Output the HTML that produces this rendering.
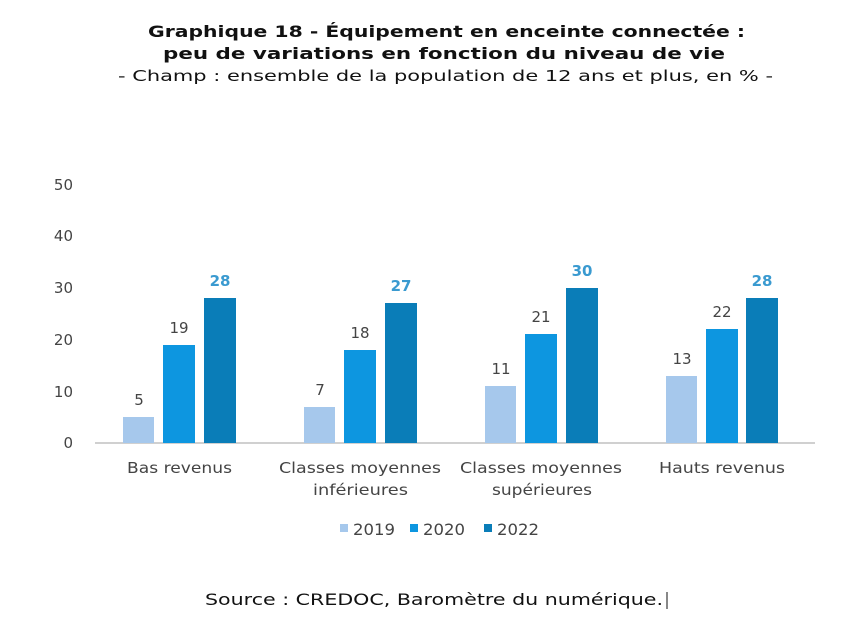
<!DOCTYPE html>
<html><head><meta charset="utf-8"><style>
body{margin:0;background:#fff;width:843px;height:623px;overflow:hidden}
svg{display:block}
</style></head><body>
<svg width="843" height="623" xmlns="http://www.w3.org/2000/svg" font-family="DejaVu Sans, Liberation Sans, sans-serif">
<text x="148" y="37" font-size="16" font-weight="bold" fill="#111" textLength="597" lengthAdjust="spacingAndGlyphs">Graphique 18 - Équipement en enceinte connectée :</text>
<text x="163" y="59" font-size="16" font-weight="bold" fill="#111" textLength="562" lengthAdjust="spacingAndGlyphs">peu de variations en fonction du niveau de vie</text>
<text x="118" y="81" font-size="15" fill="#111" textLength="655" lengthAdjust="spacingAndGlyphs">- Champ : ensemble de la population de 12 ans et plus, en % -</text>
<g font-size="15" fill="#444" text-anchor="end">
<text x="73" y="448">0</text><text x="73" y="397">10</text><text x="73" y="345">20</text>
<text x="73" y="293">30</text><text x="73" y="241">40</text><text x="73" y="190">50</text>
</g>
<line x1="95" y1="443" x2="815" y2="443" stroke="#d0d0d0" stroke-width="2"/>
<g>
<rect x="123" y="417" width="31" height="26" fill="#a6c8ec"/>
<rect x="163" y="345" width="32" height="98" fill="#0d96e0"/>
<rect x="204" y="298" width="32" height="145" fill="#0a7db8"/>
<rect x="304" y="407" width="31" height="36" fill="#a6c8ec"/>
<rect x="344" y="350" width="32" height="93" fill="#0d96e0"/>
<rect x="385" y="303" width="32" height="140" fill="#0a7db8"/>
<rect x="485" y="386" width="31" height="57" fill="#a6c8ec"/>
<rect x="525" y="334" width="32" height="109" fill="#0d96e0"/>
<rect x="566" y="288" width="32" height="155" fill="#0a7db8"/>
<rect x="666" y="376" width="31" height="67" fill="#a6c8ec"/>
<rect x="706" y="329" width="32" height="114" fill="#0d96e0"/>
<rect x="746" y="298" width="32" height="145" fill="#0a7db8"/>
</g>
<g font-size="15" fill="#444" text-anchor="middle">
<text x="139" y="405">5</text><text x="179" y="333">19</text>
<text x="320" y="395">7</text><text x="360" y="338">18</text>
<text x="501" y="374">11</text><text x="541" y="322">21</text>
<text x="682" y="364">13</text><text x="722" y="317">22</text>
</g>
<g font-size="15" fill="#3a9ad0" font-weight="bold" text-anchor="middle">
<text x="220" y="286">28</text><text x="401" y="291">27</text>
<text x="582" y="276">30</text><text x="762" y="286">28</text>
</g>
<g font-size="15" fill="#444">
<text x="127" y="473" textLength="105" lengthAdjust="spacingAndGlyphs">Bas revenus</text>
<text x="279" y="473" textLength="162" lengthAdjust="spacingAndGlyphs">Classes moyennes</text>
<text x="313" y="495" textLength="95" lengthAdjust="spacingAndGlyphs">inférieures</text>
<text x="460" y="473" textLength="162" lengthAdjust="spacingAndGlyphs">Classes moyennes</text>
<text x="492" y="495" textLength="100" lengthAdjust="spacingAndGlyphs">supérieures</text>
<text x="659" y="473" textLength="126" lengthAdjust="spacingAndGlyphs">Hauts revenus</text>
</g>
<g font-size="16" fill="#444">
<rect x="340" y="524" width="8" height="8" fill="#a6c8ec"/><text x="353" y="535" textLength="42" lengthAdjust="spacingAndGlyphs">2019</text>
<rect x="410" y="524" width="8" height="8" fill="#0d96e0"/><text x="423" y="535" textLength="42" lengthAdjust="spacingAndGlyphs">2020</text>
<rect x="484" y="524" width="8" height="8" fill="#0a7db8"/><text x="497" y="535" textLength="42" lengthAdjust="spacingAndGlyphs">2022</text>
</g>
<text x="205" y="605" font-size="16" fill="#111" textLength="458" lengthAdjust="spacingAndGlyphs">Source : CREDOC, Baromètre du numérique.</text>
<line x1="667" y1="592" x2="667" y2="609" stroke="#111" stroke-width="1"/>
</svg>
</body></html>
